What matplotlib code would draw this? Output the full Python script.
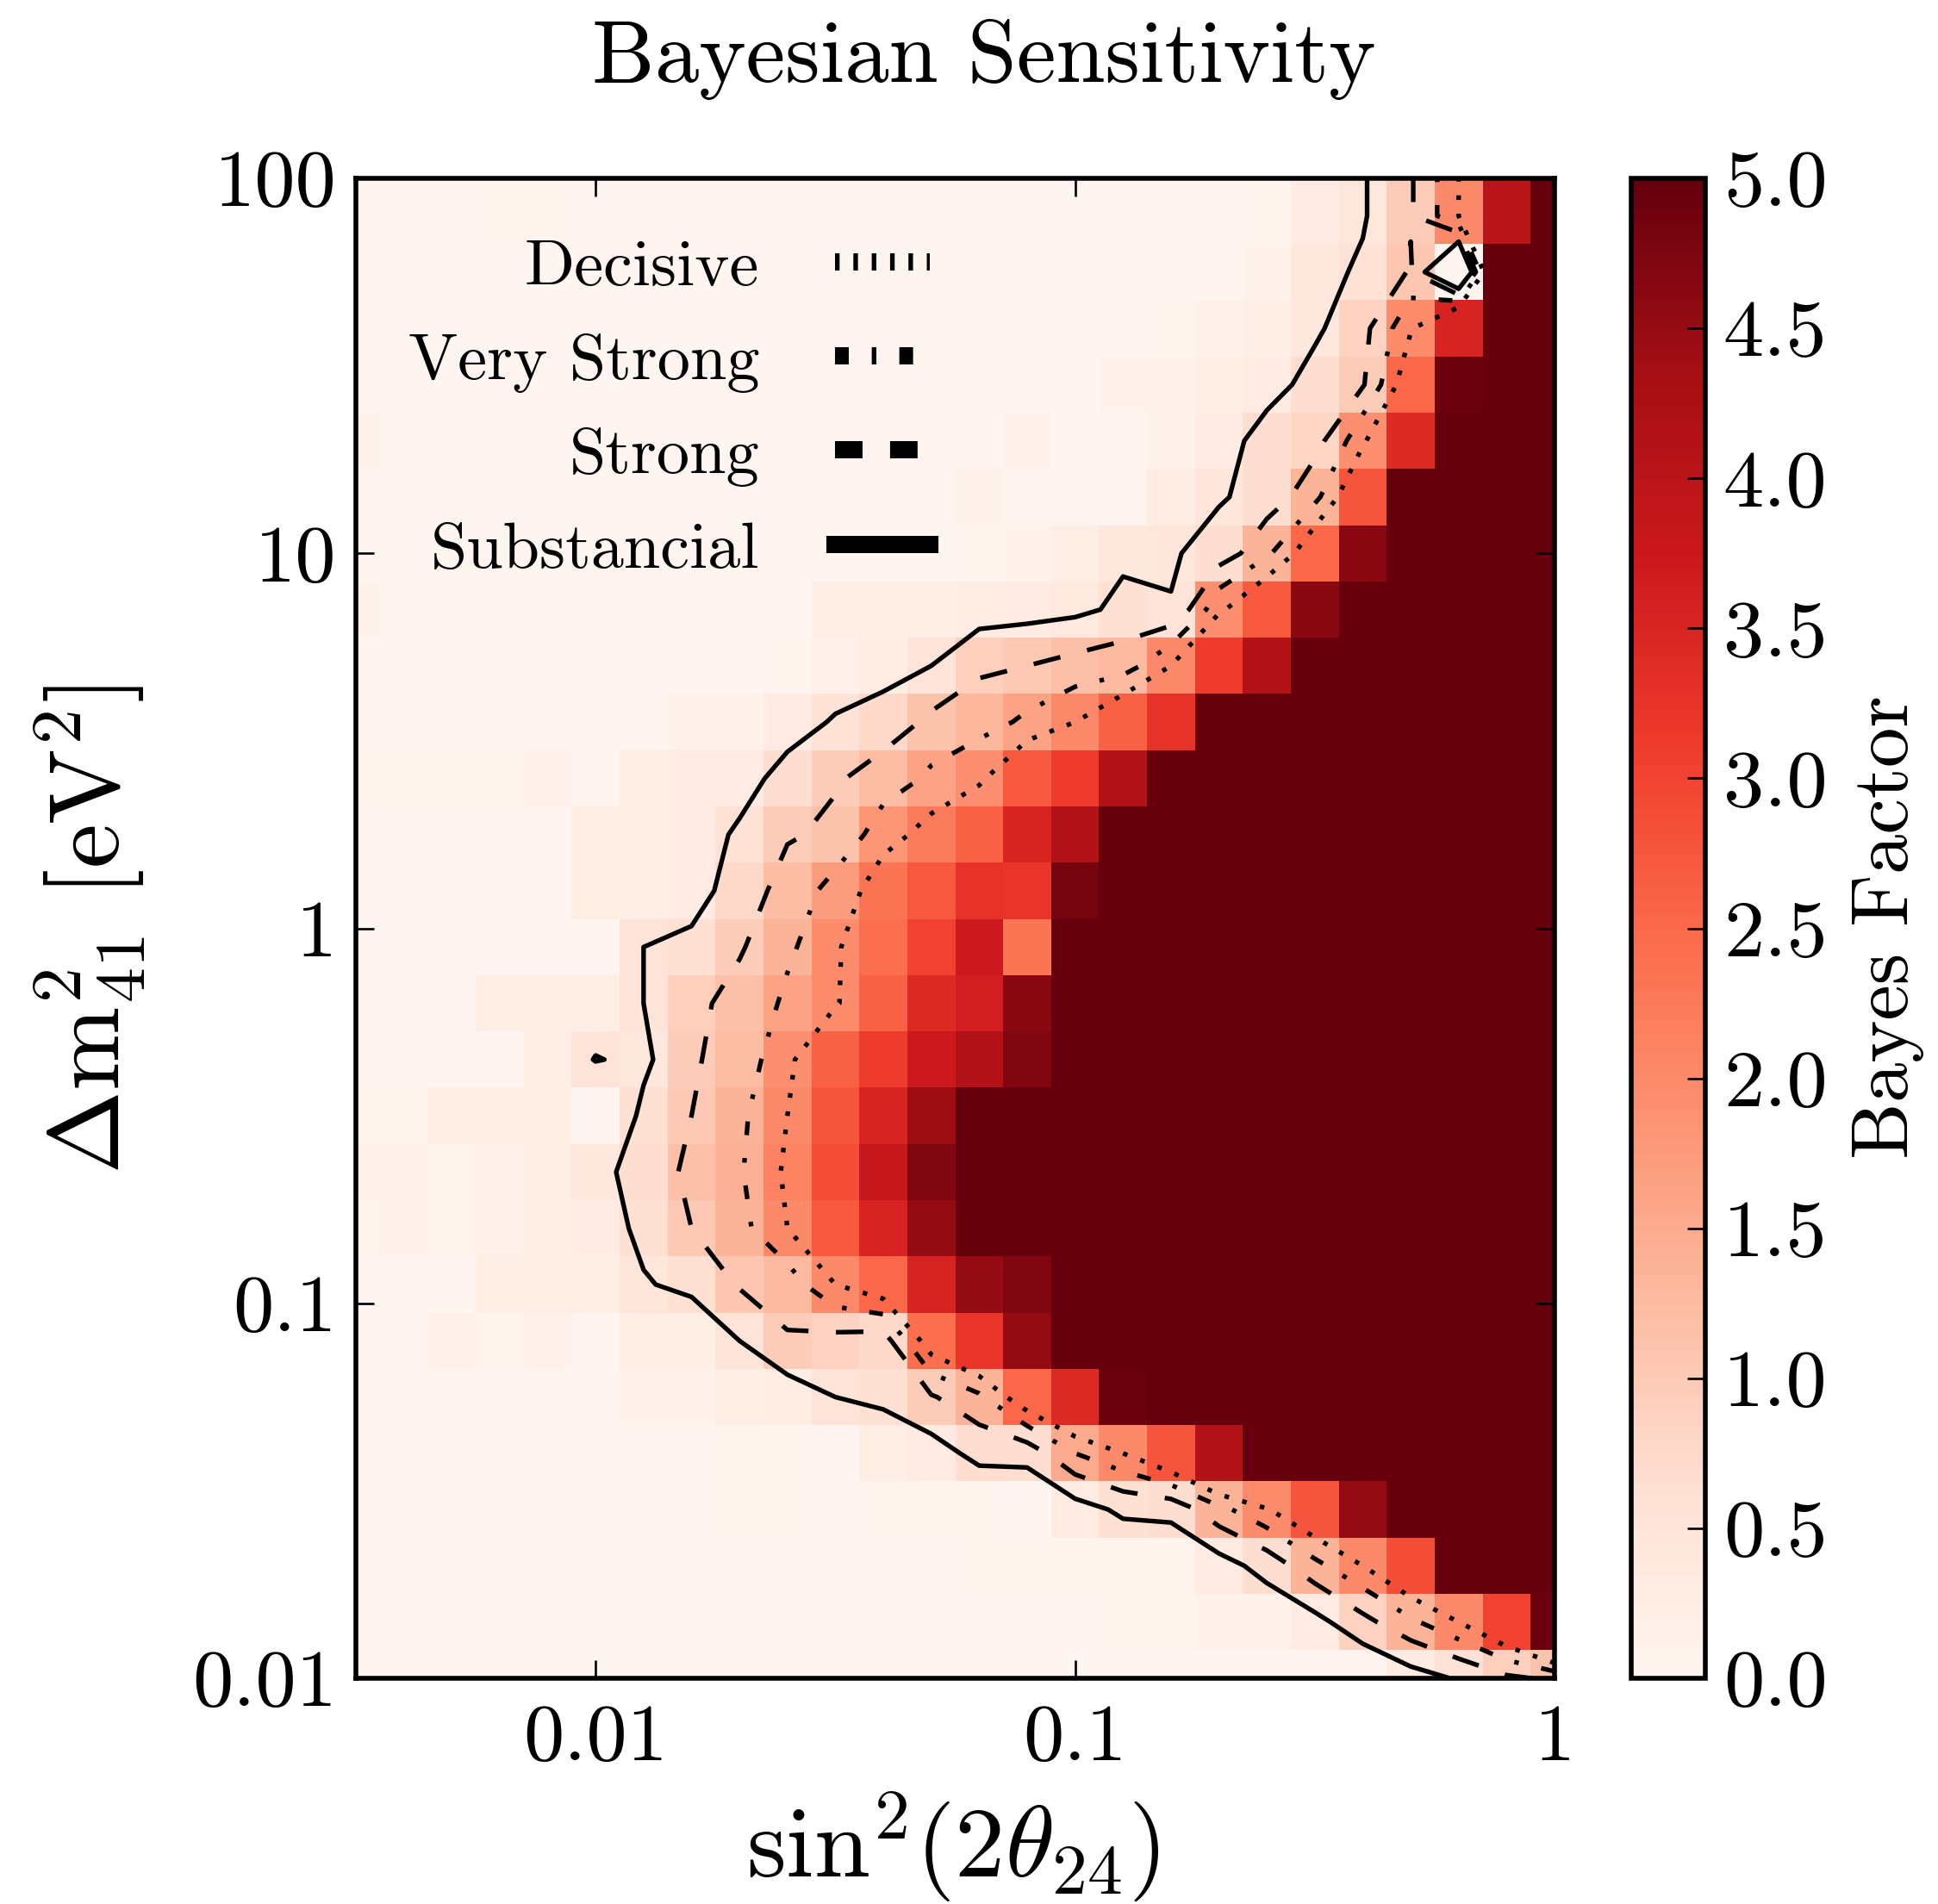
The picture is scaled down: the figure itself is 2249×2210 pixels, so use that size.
import matplotlib
matplotlib.use("Agg")
import matplotlib.pyplot as plt
from matplotlib.lines import Line2D
import numpy as np

plt.rcParams["font.family"] = ["cmr10"]
plt.rcParams["mathtext.fontset"] = "cm"
plt.rcParams["axes.formatter.use_mathtext"] = True
plt.rcParams["lines.scale_dashes"] = False

W, H = 2249, 2210

# grid centres, log10 of the axis values
LOG_SIN = [-2.5, -2.4, -2.3, -2.2, -2.1, -2.0, -1.9, -1.8, -1.7, -1.6, -1.5, -1.4, -1.3,
           -1.2, -1.1, -1.0, -0.9, -0.8, -0.7, -0.6, -0.5, -0.4, -0.3, -0.2, -0.1, 0.0]
LOG_DM = [1.9, 1.75, 1.6, 1.45, 1.3, 1.15, 1.0, 0.85, 0.7, 0.55, 0.4, 0.25, 0.1, -0.05,
          -0.2, -0.35, -0.5, -0.65, -0.8, -0.95, -1.1, -1.25, -1.4, -1.55, -1.7, -1.85, -2.0]

# Bayes factor per row, top row first (the hole near 0.6, 60 sits below the colour range)
BF_00 = [.03, .03, .03, .06, .06, .03, .03, .03, .03, .03, .03, .03, .03, .03, .03, .03, .03, .03, .03, .06, .3, .46, .95, 2.0, 4.0, 5]
BF_01 = [.03, .03, .03, .03, .03, .03, .03, .03, .03, .03, .03, .03, .03, .03, .03, .03, .03, .03, .03, .1, .4, .55, 1.05, -1.0, 5, 5]
BF_02 = [.03, .03, .03, .03, .03, .03, .03, .03, .03, .03, .03, .03, .03, .03, .03, .03, .03, .08, .15, .2, .42, .85, 1.95, 3.5, 5, 5]
BF_03 = [.03, .03, .03, .03, .03, .03, .03, .03, .03, .03, .03, .03, .03, .03, .03, .03, .1, .1, .2, .35, .65, .95, 2.5, 4.9, 5, 5]
BF_04 = [.1, .03, .03, .03, .03, .03, .03, .03, .03, .03, .03, .03, .03, .03, .1, .03, .03, .1, .35, .65, .8, 1.9, 3.4, 5, 5, 5]
BF_05 = [.03, .03, .03, .03, .03, .03, .03, .03, .03, .03, .03, .03, .03, .1, .03, .03, .03, .25, .45, .7, 1.35, 2.8, 4.95, 5, 5, 5]
BF_06 = [.03, .03, .03, .03, .03, .03, .03, .03, .03, .03, .03, .03, .03, .05, .1, .2, .4, .45, .7, 1.4, 2.5, 4.6, 5, 5, 5, 5]
BF_07 = [.1, .03, .03, .03, .03, .03, .03, .03, .03, .03, .2, .2, .2, .25, .3, .38, .62, .52, 1.9, 2.7, 4.6, 5, 5, 5, 5, 5]
BF_08 = [.03, .03, .03, .03, .03, .03, .03, .03, .04, .05, .15, .25, .5, .9, 1.0, 1.15, 1.25, 2.0, 3.1, 4.1, 5, 5, 5, 5, 5, 5]
BF_09 = [.03, .03, .03, .03, .03, .03, .03, .1, .1, .3, .55, .75, 1.1, 1.3, 1.6, 2.0, 2.6, 3.3, 5, 5, 5, 5, 5, 5, 5, 5]
BF_10 = [.05, .05, .05, .05, .15, .02, .2, .3, .35, .65, .95, 1.2, 1.6, 1.9, 2.7, 3.1, 4.1, 5, 5, 5, 5, 5, 5, 5, 5, 5]
BF_11 = [.03, .03, .03, .03, .03, .2, .2, .35, .55, .95, 1.1, 1.8, 2.2, 2.6, 3.5, 4.1, 5, 5, 5, 5, 5, 5, 5, 5, 5, 5]
BF_12 = [.03, .03, .03, .03, .03, .2, .2, .3, .75, 1.2, 1.7, 2.3, 2.7, 3.3, 3.2, 4.8, 5, 5, 5, 5, 5, 5, 5, 5, 5, 5]
BF_13 = [.02, .02, .02, .02, .02, .02, .5, .6, .95, 1.4, 1.95, 2.4, 3.0, 3.7, 2.3, 5, 5, 5, 5, 5, 5, 5, 5, 5, 5, 5]
BF_14 = [.03, .03, .03, .2, .2, .2, .5, .9, 1.15, 1.6, 1.95, 2.6, 3.4, 3.6, 4.6, 5, 5, 5, 5, 5, 5, 5, 5, 5, 5, 5]
BF_15 = [.03, .03, .03, 0, .2, .52, .4, .95, 1.2, 1.9, 2.6, 3.1, 3.7, 4.1, 4.7, 5, 5, 5, 5, 5, 5, 5, 5, 5, 5, 5]
BF_16 = [.05, .05, .2, .2, .2, .02, .6, 1.0, 1.4, 2.0, 2.8, 3.5, 4.4, 5, 5, 5, 5, 5, 5, 5, 5, 5, 5, 5, 5, 5]
BF_17 = [.1, .15, .05, .15, .2, .4, .65, 1.15, 1.45, 2.1, 2.9, 3.8, 4.7, 5, 5, 5, 5, 5, 5, 5, 5, 5, 5, 5, 5, 5]
BF_18 = [.05, .1, .05, .15, .2, .3, .6, 1.0, 1.35, 2.0, 2.7, 3.5, 4.5, 5, 5, 5, 5, 5, 5, 5, 5, 5, 5, 5, 5, 5]
BF_19 = [.03, .03, .03, .2, .2, .2, .47, .6, 1.05, 1.25, 2.0, 2.5, 3.5, 4.5, 4.7, 5, 5, 5, 5, 5, 5, 5, 5, 5, 5, 5]
BF_20 = [.03, .03, .15, .05, .15, .03, .2, .2, .5, .95, .85, .75, 2.4, 3.2, 4.5, 5, 5, 5, 5, 5, 5, 5, 5, 5, 5, 5]
BF_21 = [.03, .03, .03, .03, .03, .03, .1, .1, .2, .25, .5, .6, .95, 1.4, 2.5, 3.4, 4.9, 5, 5, 5, 5, 5, 5, 5, 5, 5]
BF_22 = [.03, .03, .03, .03, .03, .03, .03, .03, .05, .08, .02, .2, .3, .65, .7, 1.5, 2.0, 2.8, 4.1, 5, 5, 5, 5, 5, 5, 5]
BF_23 = [.03, .03, .03, .03, .03, .03, .03, .03, .06, .05, .02, .05, .06, .05, 0, .3, .6, .65, 1.35, 1.95, 2.75, 4.5, 5, 5, 5, 5]
BF_24 = [.03, .03, .03, .03, .03, .03, .03, .03, .03, .03, .03, .03, .03, .07, .07, .07, .07, .08, .3, .7, 1.35, 2.0, 2.9, 5, 5, 5]
BF_25 = [.03, .03, .03, .03, .03, .03, .03, .03, .03, .03, .03, .03, .03, .03, .03, .03, .08, .08, .1, .12, .35, .85, 1.4, 2.0, 3.0, 4.9]
BF_26 = [.03, .03, .03, .03, .03, .03, .03, .03, .03, .03, .03, .03, .03, .03, .03, .03, .03, .03, .03, .03, .03, .03, .3, .55, .9, 1.1]

LEVELS = [0.5, 1.0, 1.5, 2.0]
LEVEL_NAMES = ["Substancial", "Strong", "Very Strong", "Decisive"]
X_TICKS = [0.01, 0.1, 1]
X_TICK_LABELS = ["0.01", "0.1", "1"]
Y_TICKS = [0.01, 0.1, 1, 10, 100]
Y_TICK_LABELS = ["0.01", "0.1", "1", "10", "100"]
CBAR_TICKS = [0.0, 0.5, 1.0, 1.5, 2.0, 2.5, 3.0, 3.5, 4.0, 4.5, 5.0]

# dash patterns in points
STYLES = ["solid", (0, (23, 23)), (0, (11.5, 19.2, 3.84, 19.2)), (0, (3.84, 11.5))]


def edges(centres):
    c = np.array(centres)
    mid = (c[:-1] + c[1:]) / 2
    return np.concatenate([[c[0]], mid, [c[-1]]])


Z = np.array([BF_00, BF_01, BF_02, BF_03, BF_04, BF_05, BF_06, BF_07, BF_08, BF_09,
              BF_10, BF_11, BF_12, BF_13, BF_14, BF_15, BF_16, BF_17, BF_18, BF_19,
              BF_20, BF_21, BF_22, BF_23, BF_24, BF_25, BF_26])
log_x = np.array(LOG_SIN)
log_y = np.array(LOG_DM)

x_edges = 10 ** edges(log_x)
y_edges = 10 ** edges(log_y)
y_edges[0] = 100  # top row runs to the frame

fig = plt.figure(figsize=(W / 100, H / 100), dpi=100)
ax = fig.add_axes([413 / W, 1 - 1948 / H, (1804 - 413) / W, (1948 - 207) / H])
cax = fig.add_axes([1893 / W, 1 - 1948 / H, (1979 - 1893) / W, (1948 - 207) / H])

mesh = ax.pcolormesh(x_edges, y_edges, Z, cmap=plt.get_cmap("Reds", 100), vmin=0, vmax=5,
                     antialiased=False, linewidth=0)

# top row repeated above the frame so the lines reach it
y_line = np.concatenate([[2.05], log_y])
z_line = np.vstack([Z[0], Z])
ax.contour(10 ** log_x, 10 ** y_line, z_line, levels=LEVELS, colors="k",
           linewidths=3.84, linestyles=STYLES)

ax.set_xscale("log")
ax.set_yscale("log")
ax.set_xlim(10 ** -2.5, 1)
ax.set_ylim(0.01, 100)
ax.set_xticks(X_TICKS)
ax.set_xticklabels(X_TICK_LABELS)
ax.set_yticks(Y_TICKS)
ax.set_yticklabels(Y_TICK_LABELS)
ax.minorticks_off()
ax.tick_params(which="major", direction="in", top=True, right=True, length=15.4, width=1.92,
               labelsize=68)
ax.tick_params(axis="x", pad=22)
ax.tick_params(axis="y", pad=16)
for s in ax.spines.values():
    s.set_linewidth(4.0)

handles = []
for name, style in zip(LEVEL_NAMES[::-1], STYLES[::-1]):
    handles.append(Line2D([], [], color="k", lw=14.4, linestyle=style, label=name,
                          solid_capstyle="projecting", dash_capstyle="butt"))
leg = ax.legend(handles=handles, loc="upper left", bbox_to_anchor=(0.0216, 0.977), frameon=False,
                markerfirst=False, prop={"family": "cmr10", "size": 55}, handlelength=1.44,
                labelspacing=0.525, handletextpad=1.145, borderaxespad=0)

cb = fig.colorbar(mesh, cax=cax, ticks=CBAR_TICKS)
cb.ax.set_yticklabels([f"{t:.1f}" for t in CBAR_TICKS])
cb.ax.tick_params(direction="in", length=15.4, width=1.92, labelsize=68, pad=15)
cb.outline.set_linewidth(4.0)
cb.solids.set_edgecolor("face")

fig.text(796 / 1568, 1 - 66 / 1541, "Bayesian Sensitivity", ha="center", va="baseline", fontsize=74)
fig.text(771 / 1568, 1 - 1519 / 1541, r"$\mathrm{sin}^2(2\theta_{24})$", ha="center", va="baseline", fontsize=84)
fig.text(73 / 1568, 1 - 752 / 1541, r"$\Delta\mathrm{m}^2_{41}\ [\mathrm{eV}^2]$", ha="center", va="center",
         rotation=90, fontsize=84)
fig.text(1528 / 1568, 1 - 750 / 1541, "Bayes Factor", ha="center", va="center", rotation=90, fontsize=67)

fig.savefig("out.png", dpi=100)
